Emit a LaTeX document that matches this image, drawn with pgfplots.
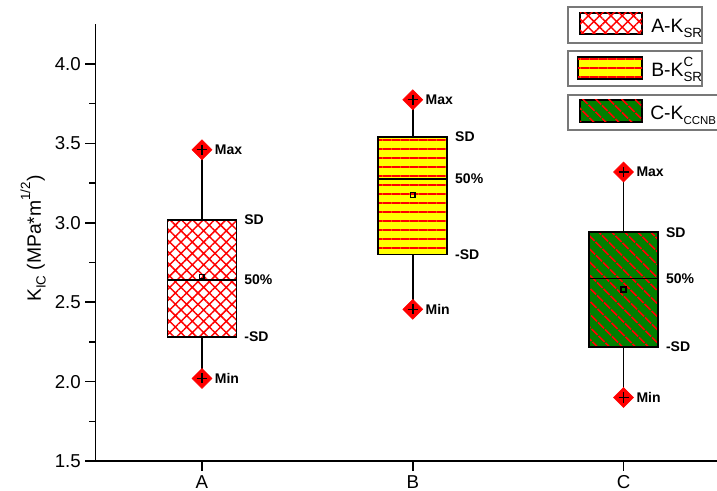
\documentclass[border=0pt]{standalone}
\usepackage{pgfplots}
\pgfplotsset{compat=1.18}
\usepackage{pgfplotstable}
\usepgfplotslibrary{statistics}
\usetikzlibrary{patterns.meta}
\usepackage{fontspec}
\setmainfont{Liberation Sans}

\definecolor{hatchred}{RGB}{255,0,0}
\definecolor{boxyellow}{RGB}{255,255,0}
\definecolor{boxgreen}{RGB}{0,128,0}
\definecolor{framegray}{RGB}{120,120,120}

\newcommand\lsub[2][10]{\raisebox{-0.45ex}{\fontsize{#1}{10}\selectfont #2}}
\newcommand\lsup[1]{\raisebox{1.05ex}{\fontsize{10}{10}\selectfont #1}}

\tikzset{
  fillA/.style={fill=white, postaction={pattern={Hatch[angle=45,distance=6pt,line width=1.1pt]}, pattern color=hatchred}},
  fillB/.style={fill=boxyellow, postaction={pattern={Lines[angle=0,distance=6.75pt,line width=1.1pt]}, pattern color=hatchred}},
  fillC/.style={fill=boxgreen, postaction={pattern={Lines[angle=-45,distance=6.9pt,line width=1.4pt]}, pattern color=hatchred}},
  lbl/.style={font=\bfseries\fontsize{10.5}{12}\selectfont},
}

% extreme values (Max / Min) of each group
\pgfplotstableread{
x y
1 3.46
1 2.02
2 3.775
2 2.455
3 3.32
3 1.90
}\extremes

% annotation text beside each box
\pgfplotstableread{
x y label
1.06 3.46 Max
1.20 3.02 SD
1.20 2.64 50\%
1.20 2.28 -SD
1.06 2.02 Min
2.06 3.775 Max
2.20 3.54 SD
2.20 3.275 50\%
2.20 2.80 -SD
2.06 2.455 Min
3.06 3.32 Max
3.20 2.94 SD
3.20 2.65 50\%
3.20 2.22 -SD
3.06 1.90 Min
}\annot

\begin{document}
\begin{tikzpicture}
\path[use as bounding box] (-71.625pt,-22.5pt) rectangle (466.125pt,345.75pt);
\begin{axis}[
  scale only axis, width=466.1pt, height=327.5pt,
  xmin=0.495, xmax=3.443, ymin=1.5, ymax=4.25,
  axis x line*=bottom, axis y line*=left,
  axis line style={line width=1.1pt, -},
  xtick={1,2,3}, xticklabels={A,B,C},
  ytick={1.5,2,...,4}, minor y tick num=1,
  yticklabel style={/pgf/number format/.cd, fixed, fixed zerofill, precision=1},
  /pgf/number format/assume math mode=true,
  tick align=outside, major tick length=7.5pt, minor tick length=4.5pt,
  tick style={line width=1.1pt, black},
  ticklabel style={font=\fontsize{14}{16}\selectfont},
  ylabel={K\lsub{IC} (MPa*m\lsup{1/2})},
  ylabel style={font=\fontsize{14.5}{16}\selectfont, xshift=3pt},
  boxplot/draw direction=y,
  boxplot/every whisker/.style={line width=1.3pt},
  boxplot/every median/.style={line width=1.3pt},
  clip=false,
]
% diamonds at the extremes, behind the whiskers
\addplot[only marks, mark=square*, mark size=5.3pt,
  mark options={rotate=45, fill=red, draw=red}, forget plot] table {\extremes};

\addplot[black, line width=1.3pt, forget plot,
  boxplot prepared={lower whisker=2.02, lower quartile=2.28, median=2.64,
    upper quartile=3.02, upper whisker=3.46, average=2.66,
    draw position=1, box extend=0.327, whisker extend=0.047,
    every box/.style={fillA, draw=black, line width=1.3pt},
    every average/.style={/tikz/mark=square, /tikz/mark size=1.8pt,
      /tikz/mark options={draw=black!40, line width=0.5pt, fill=none}}}]
  coordinates {};
\addplot[black, line width=1.3pt, forget plot,
  boxplot prepared={lower whisker=2.455, lower quartile=2.80, median=3.275,
    upper quartile=3.54, upper whisker=3.775, average=3.175,
    draw position=2, box extend=0.327, whisker extend=0.047,
    every box/.style={fillB, draw=black, line width=1.3pt},
    every average/.style={/tikz/mark=square, /tikz/mark size=1.8pt,
      /tikz/mark options={draw=black!50!yellow, line width=0.5pt, fill=none}}}]
  coordinates {};
\addplot[black, line width=1.3pt, forget plot,
  boxplot prepared={lower whisker=1.90, lower quartile=2.22, median=2.65,
    upper quartile=2.94, upper whisker=3.32, average=2.58,
    draw position=3, box extend=0.327, whisker extend=0.047,
    every box/.style={fillC, draw=black, line width=1.3pt},
    every average/.style={/tikz/mark=square, /tikz/mark size=1.8pt,
      /tikz/mark options={draw=black, line width=0.5pt, fill=none}}}]
  coordinates {};

% whisker caps drawn over the diamonds
\addplot[only marks, mark=+, mark size=3.8pt,
  mark options={draw=black, line width=1.1pt}, forget plot] table {\extremes};

% annotations
\addplot[draw=none, mark=none, forget plot,
  nodes near coords, point meta=explicit symbolic,
  nodes near coords align=horizontal,
  every node near coord/.append style={anchor=west, inner sep=0pt, lbl, text=black}]
  table[meta=label] {\annot};
\end{axis}

% framed legend entries
\begin{scope}[shift={(-71.625pt,345.75pt)}, x=0.75pt, y=-0.75pt]
  \draw[framegray, line width=1.1pt] (568,7) rectangle (702,43);
  \draw[black, line width=1.3pt, fillA] (580,13) rectangle (642,34);
  \node[anchor=base west, inner sep=0pt, font=\fontsize{14.5}{16}\selectfont] at (651,33) {A-K\lsub{SR}};

  \draw[framegray, line width=1.1pt] (568,51) rectangle (702,86);
  \draw[black, line width=1.3pt, fillB] (578,57) rectangle (642,79);
  \node[anchor=base west, inner sep=0pt, font=\fontsize{14.5}{16}\selectfont] at (651,77) {B-K\rlap{\lsup{C}}\lsub{SR}};

  \draw[framegray, line width=1.1pt] (568,95) rectangle (760,130);
  \draw[black, line width=1.3pt, fillC] (580,100) rectangle (642,122);
  \node[anchor=base west, inner sep=0pt, font=\fontsize{14.5}{16}\selectfont] at (650,120) {C-K\lsub[8.6]{CCNB}};
\end{scope}
\end{tikzpicture}
\end{document}
